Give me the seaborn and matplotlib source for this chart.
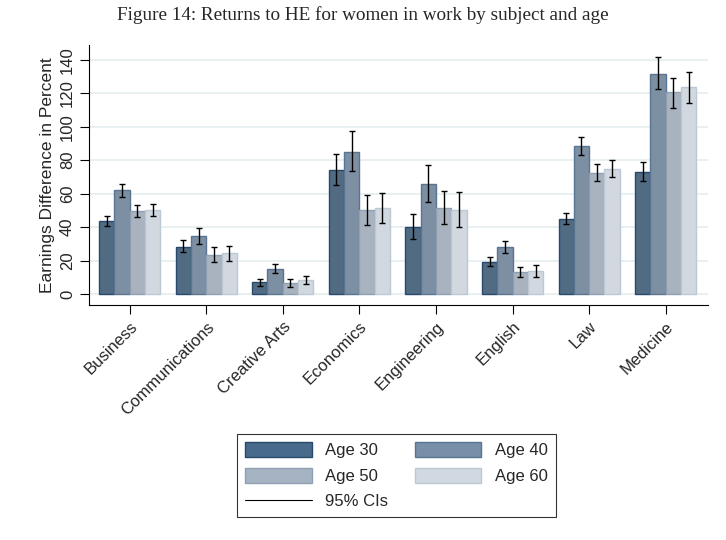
import numpy as np
import pandas as pd
import matplotlib
matplotlib.use("Agg")
import matplotlib.pyplot as plt
import seaborn as sns
from matplotlib.patches import Patch
from matplotlib.lines import Line2D

subjects = ["Business", "Communications", "Creative Arts", "Economics",
            "Engineering", "English", "Law", "Medicine"]
ages = ["Age 30", "Age 40", "Age 50", "Age 60"]

# point estimates, one list per age group (order = subjects)
age30 = [43.9, 28.3, 7.4, 74.4, 40.1, 19.3, 44.9, 73.0]
age40 = [62.4, 34.9, 15.2, 85.2, 65.8, 28.1, 88.6, 131.8]
age50 = [49.9, 23.5, 6.6, 50.3, 51.7, 13.4, 72.6, 120.5]
age60 = [50.5, 24.7, 8.6, 51.7, 50.5, 14.0, 75.0, 123.5]

# 95% CI bounds
lo30 = [40.9, 24.9, 5.0, 65.4, 32.7, 16.8, 41.9, 67.8]
hi30 = [46.7, 32.3, 9.2, 83.6, 48.1, 22.3, 48.5, 79.0]
lo40 = [58.2, 29.9, 12.8, 73.4, 54.8, 24.7, 83.4, 122.3]
hi40 = [66.0, 39.5, 18.1, 97.7, 77.2, 31.9, 93.9, 141.8]
lo50 = [46.3, 19.3, 4.2, 41.1, 41.7, 10.0, 67.8, 111.5]
hi50 = [53.5, 28.1, 9.2, 59.4, 61.6, 16.4, 77.6, 129.2]
lo60 = [46.9, 19.9, 6.0, 42.3, 40.1, 10.4, 70.2, 114.5]
hi60 = [54.0, 28.9, 11.0, 60.6, 60.8, 17.2, 80.4, 132.8]

fills = ["#496b8b", "#778fa8", "#a5b3c3", "#d0d8e1"]
edges = ["#28496b", "#5a7592", "#8fa0b3", "#bcc8d4"]

vals = [age30, age40, age50, age60]
lows = [lo30, lo40, lo50, lo60]
highs = [hi30, hi40, hi50, hi60]

rows = []
for a, v, l, h in zip(ages, vals, lows, highs):
    for s, vi, li, hi in zip(subjects, v, l, h):
        rows.append({"subject": s, "age": a, "value": vi, "lo": li, "hi": hi})
df = pd.DataFrame(rows)

sns.set_style("white")
plt.rcParams["font.family"] = ["Liberation Sans", "DejaVu Sans"]

fig = plt.figure(figsize=(7.26, 5.4), dpi=100)
ax = fig.add_axes([0.1226, 0.435, 0.8524, 0.482])

sns.barplot(data=df, x="subject", y="value", hue="age", order=subjects,
            hue_order=ages, palette=fills, errorbar=None, width=0.8,
            legend=False, ax=ax, zorder=2)

bar_groups = list(ax.containers)
for i, cont in enumerate(bar_groups):
    xs = []
    for bar in cont:
        bar.set_edgecolor(edges[i])
        bar.set_linewidth(1.0)
        xs.append(bar.get_x() + bar.get_width() / 2)
    v = np.array(vals[i])
    err = [v - np.array(lows[i]), np.array(highs[i]) - v]
    ax.errorbar(xs, v, yerr=err, fmt="none", ecolor="black", elinewidth=1.0,
                capsize=2, capthick=1.0, zorder=3)

ax.set_ylim(-6.6, 149)
ax.set_xlim(-0.53, 7.55)
ax.set_yticks(np.arange(0, 141, 20))
ax.yaxis.grid(True, color="#e6eff0", linewidth=1.3, zorder=0)
ax.set_axisbelow(True)
for s in ["top", "right"]:
    ax.spines[s].set_visible(False)
for s in ["left", "bottom"]:
    ax.spines[s].set_color("black")
    ax.spines[s].set_linewidth(0.8)
ax.tick_params(axis="both", direction="out", length=6.5, width=0.8,
               color="black", labelsize=12, left=True, bottom=True)
plt.setp(ax.get_yticklabels(), rotation=90, va="center")
plt.setp(ax.get_xticklabels(), rotation=45, ha="right", rotation_mode="anchor")
ax.set_xlabel("")
ax.set_ylabel("Earnings Difference in Percent", fontsize=12.5, labelpad=4)

fig.suptitle("Figure 14: Returns to HE for women in work by subject and age",
             y=0.988, fontsize=13.8, family=["Liberation Serif", "DejaVu Serif"])

h = [Patch(facecolor=fills[i], edgecolor=edges[i], linewidth=1.0) for i in range(4)]
ci = Line2D([0], [0], color="black", linewidth=0.8)
labels = ["Age 30", "Age 50", "95% CIs", "Age 40", "Age 60"]
leg = fig.legend([h[0], h[2], ci, h[1], h[3]], labels, ncol=2,
                 loc="center", bbox_to_anchor=(0.546, 0.119), fontsize=12,
                 frameon=True, fancybox=False, edgecolor="black",
                 handlelength=4.0, handleheight=1.0, columnspacing=1.6,
                 labelspacing=0.55, borderpad=0.5, handletextpad=0.8)
leg.get_frame().set_linewidth(0.8)

fig.savefig("out.png", dpi=100)
